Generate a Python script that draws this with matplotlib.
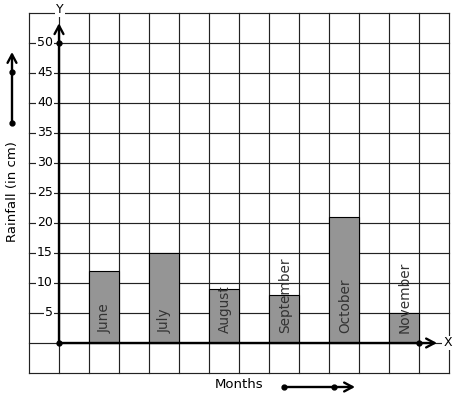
import numpy as np
import matplotlib
matplotlib.use('Agg')
import matplotlib.pyplot as plt

# data
months = ['June', 'July', 'August', 'September', 'October', 'November']
rainfall = [12, 15, 9, 8, 21, 5]
y_ticks = [5, 10, 15, 20, 25, 30, 35, 40, 45, 50]

INK = '#000000'
GRID = '#222222'
BAR = '#959595'
LABEL = '#333333'

W, H = 457, 399
fig = plt.figure(figsize=(W / 100, H / 100), dpi=100, facecolor='white')
ax = fig.add_axes([0, 0, 1, 1])
# 30 px per column, 6 px per cm; origin at pixel (59, 343)
ax.set_xlim(-59 / 30, (W - 59) / 30)
ax.set_ylim(-(H - 343) / 6, 343 / 6)
ax.axis('off')

# grid (paper)
for gx in range(-1, 14):
    ax.plot([gx, gx], [-5, 55], color=GRID, lw=0.85, zorder=1)
for gy in range(-5, 60, 5):
    ax.plot([-1, 13], [gy, gy], color=GRID, lw=0.85, zorder=1)

# bars: one column gap between each
xs = 1.5 + 2 * np.arange(len(months))
ax.bar(xs, rainfall, width=1, color=BAR, edgecolor=INK, linewidth=0.8, zorder=2)
for x, m in zip(xs, months):
    ax.text(x + 0.03, 1.6, m, rotation=90, ha='center', va='bottom',
            fontsize=9.8, color=LABEL, zorder=4)

# axes with arrows
arrow = dict(arrowstyle='->,head_length=0.6,head_width=0.32', color=INK, lw=1.7,
             shrinkA=0, shrinkB=0)
ax.annotate('', xy=(0, 53.3), xytext=(0, 0), arrowprops=arrow, zorder=5)
ax.annotate('', xy=(12.6, 0), xytext=(0, 0), arrowprops=arrow, zorder=5)
ax.plot([0, 0, 12], [0, 50, 0], 'o', color=INK, ms=3.5, zorder=6)

for v in y_ticks:
    ax.text(-0.2, v, str(v), ha='right', va='center', fontsize=9, color=INK, zorder=4,
            bbox=dict(facecolor='white', edgecolor='none', pad=0.6))
ax.text(0.03, 55.6, 'Y', ha='center', va='center', fontsize=9, color=INK, zorder=4,
        bbox=dict(facecolor='white', edgecolor='none', pad=0.6))
ax.text(12.95, 0, 'X', ha='center', va='center', fontsize=9, color=INK, zorder=4,
        bbox=dict(facecolor='white', edgecolor='none', pad=0.6))

# axis titles with decorative arrows
fig.text(13 / W, 1 - 192 / H, 'Rainfall (in cm)', rotation=90, ha='center',
         va='center', fontsize=9.5, color=INK)
fig.text(239 / W, 1 - 385 / H, 'Months', ha='center', va='center',
         fontsize=9.5, color=INK)

side = dict(arrowstyle='->,head_length=0.6,head_width=0.32', color=INK, lw=1.7,
            shrinkA=0, shrinkB=0)
ax.annotate('', xy=(12 / W, 1 - 52 / H), xytext=(12 / W, 1 - 123 / H),
            xycoords='figure fraction', textcoords='figure fraction', arrowprops=side)
ax.plot([12 / W, 12 / W], [1 - 123 / H, 1 - 72 / H], 'o', color=INK, ms=3.5,
        transform=fig.transFigure, clip_on=False)
ax.annotate('', xy=(355 / W, 1 - 387 / H), xytext=(284 / W, 1 - 387 / H),
            xycoords='figure fraction', textcoords='figure fraction', arrowprops=side)
ax.plot([284 / W, 334 / W], [1 - 387 / H, 1 - 387 / H], 'o', color=INK, ms=3.5,
        transform=fig.transFigure, clip_on=False)

fig.savefig('out.png', dpi=100, facecolor='white')
